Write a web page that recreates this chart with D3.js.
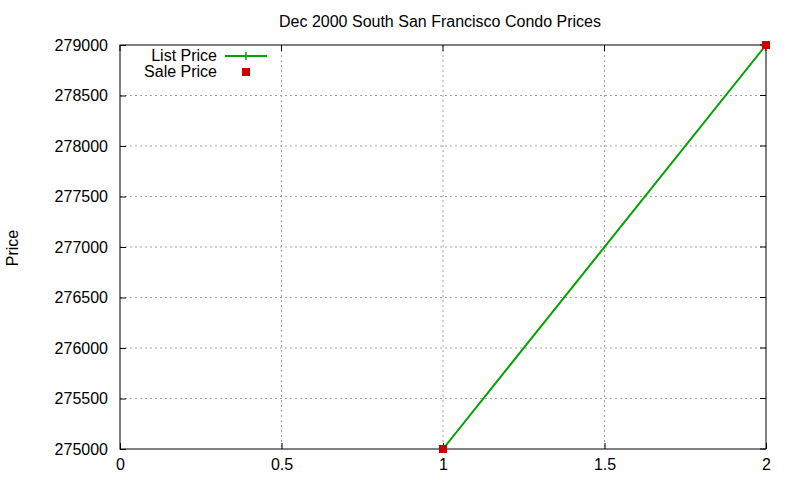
<!DOCTYPE html>
<html>
<head>
<meta charset="utf-8">
<script src="https://cdn.jsdelivr.net/npm/d3@7"></script>
<style>
  body { margin: 0; background: #fff; }
  text { font-family: "Liberation Sans", Arial, sans-serif; fill: #000; }
</style>
</head>
<body>
<svg id="chart" width="800" height="480"></svg>
<script>
// data
const listX = [1, 2];
const listPrice = [275000, 279000];
const saleX = [1, 2];
const salePrice = [275000, 279000];
const xTicks = [0, 0.5, 1, 1.5, 2];
const yTicks = [275000, 275500, 276000, 276500, 277000, 277500, 278000, 278500, 279000];

const svg = d3.select("#chart");
const margin = { top: 45, right: 34, bottom: 31, left: 120 };
const width = 800 - margin.left - margin.right;
const height = 480 - margin.top - margin.bottom;
const fs = "16px";

const x = d3.scaleLinear().domain([0, 2]).range([0, width]);
const y = d3.scaleLinear().domain([275000, 279000]).range([height, 0]);

const g = svg.append("g").attr("transform", `translate(${margin.left},${margin.top})`);

// grid
g.selectAll("line.gx")
  .data(xTicks.slice(1, -1))
  .enter().append("line")
  .attr("x1", d => x(d)).attr("x2", d => x(d))
  .attr("y1", 0).attr("y2", height)
  .attr("stroke", "#a0a0a0").attr("stroke-dasharray", "2,3");
g.selectAll("line.gy")
  .data(yTicks.slice(1, -1))
  .enter().append("line")
  .attr("y1", d => y(d)).attr("y2", d => y(d))
  .attr("x1", 0).attr("x2", width)
  .attr("stroke", "#a0a0a0").attr("stroke-dasharray", "2,3");

// axes with inward ticks
const xAxis = d3.axisBottom(x).tickValues(xTicks).tickSize(-6).tickPadding(10)
  .tickFormat(d3.format("~g"));
const yAxis = d3.axisLeft(y).tickValues(yTicks).tickSize(-6).tickPadding(12)
  .tickFormat(d => d);

const gx = g.append("g").attr("transform", `translate(0,${height})`).call(xAxis);
const gy = g.append("g").call(yAxis);
[gx, gy].forEach(a => {
  a.select(".domain").remove();
  a.selectAll("text").style("font-size", fs).attr("fill", "#000");
  a.selectAll("line").attr("stroke", "#000");
});

// mirrored ticks on top and right
g.selectAll("line.tt").data(xTicks).enter().append("line")
  .attr("x1", d => x(d)).attr("x2", d => x(d)).attr("y1", 0).attr("y2", 6)
  .attr("stroke", "#000");
g.selectAll("line.tr").data(yTicks).enter().append("line")
  .attr("y1", d => y(d)).attr("y2", d => y(d)).attr("x1", width).attr("x2", width - 6)
  .attr("stroke", "#000");

// border
g.append("rect").attr("width", width).attr("height", height)
  .attr("fill", "none").attr("stroke", "#000").attr("stroke-width", 1);

// list price line
const line = d3.line().x(d => x(d[0])).y(d => y(d[1]));
const listData = listX.map((v, i) => [v, listPrice[i]]);
g.append("path").datum(listData).attr("d", line)
  .attr("fill", "none").attr("stroke", "#00a000").attr("stroke-width", 2);

// sale price points
g.selectAll("rect.sale").data(saleX.map((v, i) => [v, salePrice[i]]))
  .enter().append("rect")
  .attr("x", d => x(d[0]) - 4).attr("y", d => y(d[1]) - 4)
  .attr("width", 8).attr("height", 8).attr("fill", "#cc0000");

// title
svg.append("text").attr("x", 440).attr("y", 27).attr("text-anchor", "middle")
  .style("font-size", fs).text("Dec 2000 South San Francisco Condo Prices");

// y label
svg.append("text").attr("transform", "translate(18,248) rotate(-90)")
  .attr("text-anchor", "middle").style("font-size", fs).text("Price");

// legend
const lg = svg.append("g");
lg.append("text").attr("x", 217).attr("y", 61).attr("text-anchor", "end")
  .style("font-size", fs).text("List Price");
lg.append("line").attr("x1", 225).attr("x2", 267).attr("y1", 56).attr("y2", 56)
  .attr("stroke", "#00a000").attr("stroke-width", 2);
lg.append("line").attr("x1", 246).attr("x2", 246).attr("y1", 52).attr("y2", 60)
  .attr("stroke", "#00a000").attr("stroke-width", 1.5);
lg.append("text").attr("x", 217).attr("y", 77).attr("text-anchor", "end")
  .style("font-size", fs).text("Sale Price");
lg.append("rect").attr("x", 242).attr("y", 68).attr("width", 8).attr("height", 8)
  .attr("fill", "#cc0000");
</script>
</body>
</html>
